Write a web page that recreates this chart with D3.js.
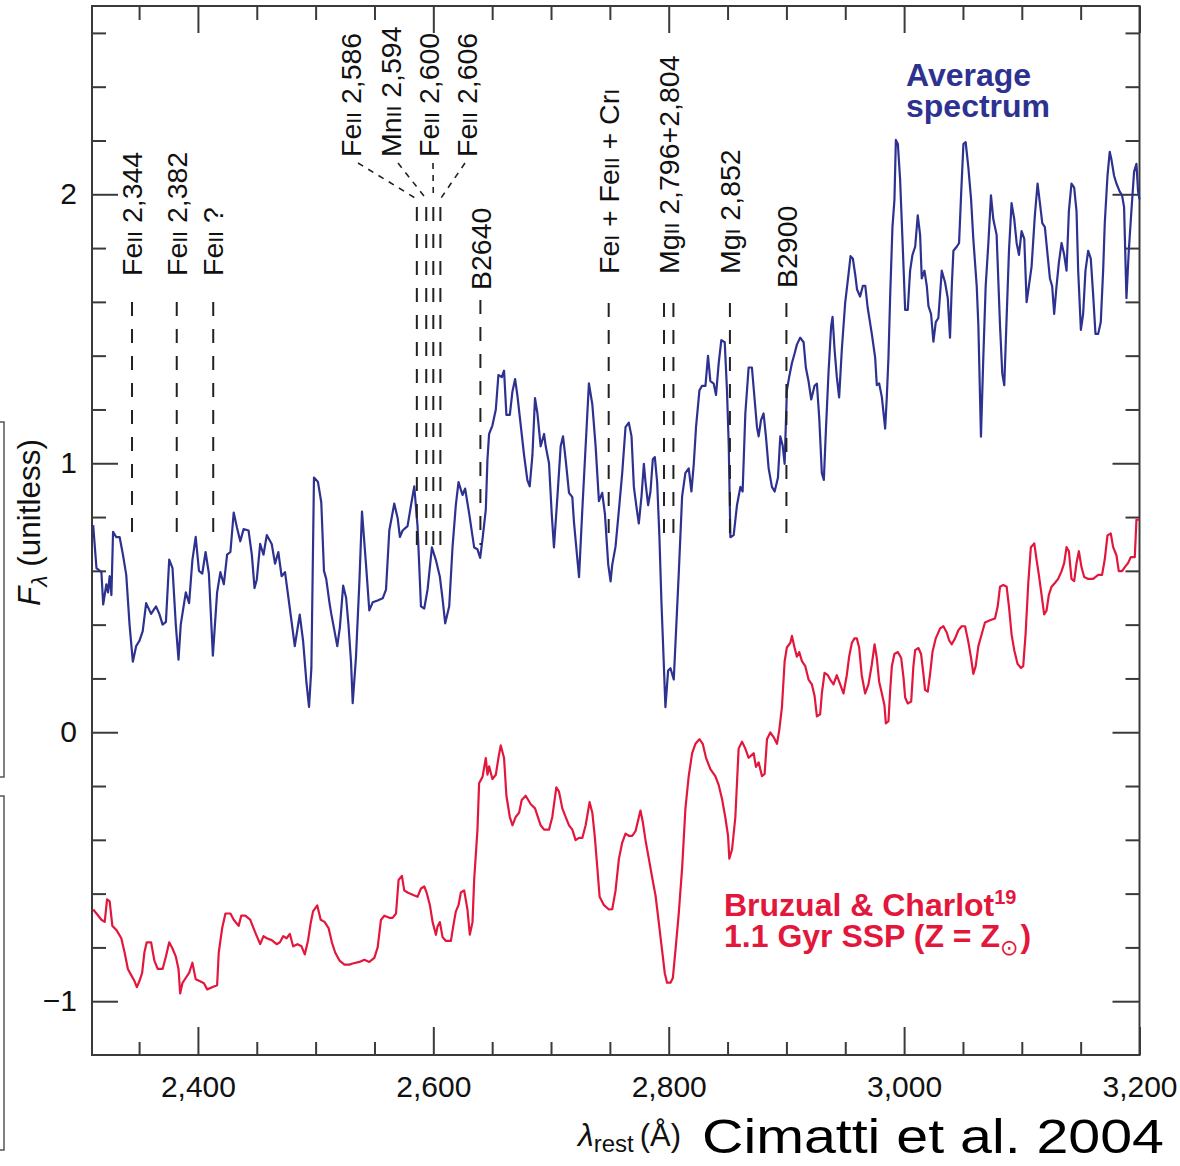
<!DOCTYPE html>
<html>
<head>
<meta charset="utf-8">
<script src="https://cdn.jsdelivr.net/npm/d3@7"></script>
<style>
  body { margin: 0; background: #fff; }
  svg { display: block; }
  text { font-family: "Liberation Sans", Arial, Helvetica, sans-serif; }
</style>
</head>
<body>
<svg id="chart" width="1180" height="1166"></svg>
<script>
// ---- Average observed spectrum (rest-frame wavelength in Å, F_lambda unitless)
const avgWavelength = [
  2311.0,2313.8,2318.0,2319.5,2322.2,2323.6,2325.0,2326.5,2327.9,2330.7,2333.5,2336.3,2339.1,2341.9,2344.7,2347.5,
  2350.3,2353.1,2356.0,2360.2,2364.4,2367.2,2370.0,2372.8,2375.6,2378.4,2381.2,2383.5,2385.4,2389.7,2392.5,2395.3,
  2398.1,2400.9,2403.7,2406.5,2409.3,2412.7,2416.3,2419.1,2422.0,2424.8,2427.6,2430.4,2433.2,2436.0,2438.8,2443.0,
  2445.8,2448.1,2450.0,2452.9,2455.7,2458.5,2462.7,2465.5,2468.3,2471.1,2474.0,2478.1,2482.3,2486.5,2489.4,2492.2,
  2494.4,2496.4,2498.6,2502.0,2504.8,2507.1,2509.0,2511.8,2513.3,2516.1,2518.4,2520.6,2523.4,2525.9,2527.9,2530.1,
  2531.5,2534.3,2537.2,2539.4,2542.8,2545.6,2548.5,2552.7,2557.0,2559.8,2562.6,2566.8,2569.7,2571.6,2573.9,2578.1,
  2581.0,2583.8,2586.6,2589.5,2592.3,2595.1,2598.8,2602.2,2605.6,2607.8,2610.1,2613.5,2616.3,2619.1,2621.4,2624.8,
  2627.0,2630.5,2634.7,2637.5,2639.8,2641.8,2644.6,2646.0,2647.4,2650.2,2653.1,2655.3,2658.2,2660.1,2662.1,2665.0,
  2667.2,2669.5,2671.5,2674.3,2677.1,2679.9,2681.9,2684.2,2686.4,2688.4,2691.2,2694.1,2695.5,2698.3,2700.6,2702.5,
  2705.4,2708.2,2710.2,2712.4,2715.3,2718.1,2719.5,2721.8,2723.8,2726.6,2729.4,2732.2,2735.1,2737.9,2740.7,2743.5,
  2745.8,2748.6,2750.6,2752.0,2754.8,2757.7,2760.5,2763.3,2766.1,2768.4,2770.4,2772.4,2774.6,2776.9,2778.9,2780.3,
  2782.5,2784.5,2786.5,2788.2,2790.2,2792.1,2793.8,2795.3,2797.2,2799.5,2801.5,2804.3,2806.3,2808.5,2811.4,2814.2,
  2817.0,2819.3,2821.3,2823.2,2826.1,2828.3,2831.2,2833.4,2835.4,2838.2,2840.2,2842.5,2844.7,2847.6,2849.5,2851.0,
  2852.4,2855.2,2858.0,2860.9,2862.8,2865.1,2867.9,2870.7,2873.0,2875.0,2876.4,2878.4,2880.6,2882.6,2884.9,2887.7,
  2890.0,2892.8,2894.8,2896.8,2898.5,2900.4,2902.4,2904.7,2906.9,2908.9,2911.7,2914.6,2916.5,2918.8,2921.1,2923.9,
  2925.9,2927.9,2930.1,2931.8,2933.5,2935.8,2938.0,2939.2,2940.9,2942.8,2944.8,2947.1,2949.9,2952.7,2954.5,2956.5,
  2958.5,2960.0,2962.6,2965.0,2967.0,2969.0,2972.6,2975.4,2976.8,2978.8,2981.1,2983.9,2985.3,2986.7,2988.2,2990.1,
  2991.8,2993.0,2994.7,2996.6,2998.6,3000.9,3003.1,3005.1,3007.1,3009.4,3011.6,3013.6,3015.0,3017.3,3019.3,3020.7,
  3022.9,3024.9,3026.9,3029.1,3032.0,3034.8,3037.1,3039.0,3040.5,3041.9,3044.7,3046.7,3048.4,3050.4,3052.3,3054.6,
  3056.9,3058.8,3061.7,3063.1,3064.5,3065.3,3067.3,3069.3,3071.6,3073.8,3075.8,3078.6,3081.5,3083.4,3085.1,3087.1,
  3089.1,3091.3,3093.6,3095.6,3097.6,3099.8,3102.1,3104.1,3106.0,3108.3,3111.1,3113.4,3115.4,3117.4,3119.6,3121.9,
  3123.9,3125.8,3127.5,3129.5,3131.5,3133.8,3136.0,3138.0,3140.0,3142.2,3144.5,3146.5,3147.9,3150.2,3152.1,3154.1,
  3156.4,3158.6,3160.6,3162.6,3164.9,3167.1,3169.1,3170.5,3172.8,3174.7,3176.2,3178.4,3180.4,3183.2,3185.2,3186.9,
  3188.9,3190.9,3193.1,3195.4,3197.4,3198.8,3200.0
];
const avgFlux = [
  0.770,0.610,0.595,0.475,0.550,0.520,0.580,0.510,0.745,0.725,0.725,0.660,0.585,0.400,0.262,0.320,
  0.340,0.376,0.480,0.440,0.468,0.440,0.400,0.410,0.642,0.610,0.400,0.270,0.400,0.520,0.480,0.640,
  0.726,0.600,0.590,0.670,0.590,0.285,0.520,0.595,0.550,0.660,0.670,0.817,0.760,0.710,0.755,0.750,
  0.660,0.536,0.567,0.700,0.660,0.733,0.700,0.627,0.670,0.580,0.595,0.460,0.320,0.437,0.338,0.185,
  0.094,0.240,0.947,0.930,0.855,0.600,0.570,0.480,0.440,0.375,0.320,0.390,0.545,0.500,0.400,0.260,
  0.108,0.280,0.561,0.820,0.624,0.453,0.483,0.490,0.498,0.530,0.750,0.850,0.796,0.726,0.750,0.766,
  0.843,0.914,0.766,0.468,0.460,0.530,0.687,0.640,0.577,0.498,0.405,0.468,0.687,0.843,0.930,0.882,
  0.906,0.812,0.687,0.680,0.648,0.718,0.828,1.015,1.109,1.140,1.200,1.328,1.320,1.344,1.180,1.180,
  1.266,1.313,1.250,1.140,1.030,0.937,0.914,1.030,1.242,1.187,1.063,1.109,1.063,1.000,0.812,0.687,
  0.874,1.063,1.100,1.015,0.890,0.874,0.781,0.671,0.577,0.828,1.063,1.297,1.219,1.063,0.859,0.890,
  0.812,0.624,0.561,0.622,0.690,0.827,0.964,1.134,1.151,1.100,0.912,0.844,0.776,0.878,0.998,0.929,
  0.844,0.895,1.015,1.023,0.929,0.725,0.486,0.315,0.093,0.229,0.238,0.196,0.383,0.588,0.878,0.964,
  0.981,0.895,0.998,1.134,1.271,1.288,1.288,1.399,1.305,1.296,1.254,1.373,1.458,1.450,1.271,1.066,
  0.725,0.733,0.844,0.912,0.895,1.185,1.356,1.356,1.237,1.134,1.100,1.160,1.185,1.100,0.981,0.912,
  0.895,0.946,1.100,1.066,0.998,1.271,1.322,1.373,1.407,1.441,1.467,1.450,1.356,1.305,1.237,1.288,
  1.296,1.168,0.964,0.938,1.117,1.339,1.510,1.544,1.424,1.322,1.245,1.424,1.595,1.700,1.770,1.760,
  1.700,1.646,1.620,1.660,1.660,1.580,1.480,1.393,1.290,1.297,1.246,1.129,1.246,1.393,1.628,1.878,
  1.981,2.202,2.187,2.055,1.834,1.570,1.570,1.716,1.775,1.805,1.922,1.849,1.687,1.716,1.658,1.584,
  1.555,1.452,1.525,1.540,1.716,1.672,1.614,1.467,1.658,1.790,1.805,1.819,1.996,2.187,2.194,2.099,
  1.981,1.834,1.658,1.511,1.246,1.099,1.393,1.658,1.819,1.996,1.907,1.849,1.511,1.334,1.290,1.540,
  1.790,1.967,1.907,1.819,1.775,1.863,1.834,1.599,1.658,1.731,1.922,2.040,1.967,1.893,1.878,1.775,
  1.687,1.658,1.555,1.658,1.746,1.819,1.775,1.716,1.937,2.040,2.025,1.937,1.716,1.496,1.555,1.716,
  1.790,1.761,1.628,1.481,1.481,1.525,1.716,1.893,2.069,2.158,2.128,2.069,2.040,2.010,1.996,1.952,
  1.614,1.790,1.937,2.084,2.113,2.010,1.981
];

// ---- Bruzual & Charlot 1.1 Gyr SSP model (offset for display)
const modelWavelength = [
  2311.0,2313.8,2318.0,2320.8,2322.8,2325.0,2327.3,2330.7,2334.9,2337.7,2340.5,2343.3,2346.1,2348.1,2350.3,2352.6,
  2354.5,2356.5,2360.2,2363.0,2365.8,2370.0,2372.8,2375.6,2378.4,2381.2,2383.5,2384.9,2386.8,2390.2,2392.5,2395.3,
  2398.1,2401.4,2405.1,2407.9,2412.1,2416.3,2417.7,2420.6,2423.4,2427.6,2430.4,2434.6,2436.8,2440.2,2444.4,2447.2,
  2450.0,2452.9,2455.7,2458.5,2462.7,2466.9,2469.7,2472.5,2475.3,2478.1,2480.9,2484.6,2488.0,2490.8,2493.6,2495.8,
  2497.8,2501.4,2504.3,2507.6,2511.0,2513.8,2516.6,2520.3,2524.5,2528.7,2531.5,2537.2,2541.4,2545.6,2549.9,2552.7,
  2555.5,2558.4,2562.6,2565.4,2568.3,2570.5,2573.3,2575.3,2578.1,2582.4,2586.6,2589.5,2592.3,2594.3,2597.1,2599.4,
  2602.2,2603.6,2605.6,2607.8,2610.7,2614.9,2616.9,2619.1,2621.4,2623.4,2626.2,2629.0,2631.0,2633.3,2634.7,2637.5,
  2638.9,2641.8,2644.6,2646.0,2647.4,2650.2,2653.1,2655.3,2657.3,2660.1,2662.1,2665.0,2667.2,2670.0,2672.9,2675.1,
  2678.5,2682.8,2686.4,2691.2,2694.1,2698.3,2701.1,2704.5,2706.8,2709.6,2712.4,2715.3,2718.1,2720.9,2723.8,2726.6,
  2729.4,2732.8,2735.1,2737.3,2739.3,2741.3,2745.0,2749.2,2752.0,2754.8,2757.7,2760.5,2763.3,2766.1,2769.0,2771.8,
  2774.1,2776.0,2778.0,2780.3,2783.1,2785.9,2788.8,2791.6,2794.4,2796.7,2798.6,2801.5,2803.5,2805.7,2808.5,2811.4,
  2814.2,2817.0,2819.9,2822.7,2826.1,2828.9,2831.7,2835.4,2839.6,2842.5,2845.3,2848.1,2850.4,2851.5,2853.8,2856.6,
  2859.4,2862.3,2865.1,2867.9,2870.2,2872.2,2874.1,2876.4,2879.2,2881.5,2883.5,2886.3,2889.1,2892.0,2893.9,2896.2,
  2898.5,2900.4,2903.3,2904.7,2906.9,2908.9,2910.9,2913.2,2916.0,2918.8,2921.6,2923.9,2925.9,2928.7,2930.1,2932.4,
  2935.2,2937.2,2940.0,2942.8,2945.7,2948.5,2951.3,2953.3,2955.6,2957.8,2959.8,2961.8,2964.0,2966.9,2969.7,2972.5,
  2974.9,2976.8,2978.8,2981.1,2983.3,2984.5,2986.7,2988.2,2989.6,2991.8,2994.7,2997.5,2999.5,3000.9,3003.1,3006.0,
  3007.9,3009.4,3012.2,3014.4,3016.4,3017.8,3020.1,3022.1,3024.1,3026.9,3030.6,3033.4,3036.2,3038.2,3040.5,3043.3,
  3046.1,3048.9,3051.8,3054.6,3056.9,3058.8,3060.8,3063.1,3065.9,3068.7,3073.0,3077.2,3079.5,3081.5,3084.3,3087.1,
  3089.1,3091.3,3093.6,3096.4,3099.3,3101.2,3103.2,3105.5,3107.7,3110.6,3112.5,3114.5,3116.8,3119.0,3121.0,3123.0,
  3125.3,3128.1,3130.9,3133.8,3136.0,3138.0,3140.0,3142.2,3144.5,3146.5,3148.5,3150.7,3153.0,3156.4,3160.6,3164.9,
  3168.2,3170.5,3172.8,3175.6,3177.6,3180.4,3182.4,3185.2,3187.5,3190.3,3192.6,3196.0,3197.4,3200.0
];
const modelFlux = [
  -0.659,-0.674,-0.697,-0.705,-0.621,-0.629,-0.720,-0.735,-0.766,-0.819,-0.880,-0.903,-0.925,-0.948,-0.925,-0.895,
  -0.819,-0.781,-0.781,-0.849,-0.880,-0.880,-0.834,-0.781,-0.804,-0.834,-0.880,-0.971,-0.933,-0.910,-0.895,-0.857,
  -0.918,-0.925,-0.933,-0.956,-0.948,-0.941,-0.819,-0.728,-0.674,-0.674,-0.697,-0.720,-0.682,-0.682,-0.697,-0.728,
  -0.758,-0.788,-0.758,-0.766,-0.773,-0.788,-0.781,-0.758,-0.766,-0.750,-0.796,-0.788,-0.796,-0.826,-0.773,-0.710,
  -0.666,-0.644,-0.697,-0.705,-0.728,-0.781,-0.819,-0.849,-0.864,-0.864,-0.860,-0.854,-0.846,-0.854,-0.839,-0.800,
  -0.698,-0.682,-0.690,-0.690,-0.674,-0.549,-0.534,-0.588,-0.596,-0.604,-0.612,-0.581,-0.573,-0.596,-0.643,-0.706,
  -0.753,-0.722,-0.706,-0.761,-0.776,-0.776,-0.722,-0.667,-0.643,-0.596,-0.588,-0.659,-0.753,-0.706,-0.549,-0.362,
  -0.190,-0.166,-0.096,-0.158,-0.127,-0.174,-0.158,-0.096,-0.049,-0.096,-0.236,-0.315,-0.346,-0.315,-0.299,-0.252,
  -0.236,-0.268,-0.283,-0.346,-0.362,-0.362,-0.315,-0.205,-0.221,-0.283,-0.315,-0.346,-0.362,-0.401,-0.393,-0.393,
  -0.346,-0.260,-0.299,-0.393,-0.502,-0.612,-0.643,-0.659,-0.658,-0.590,-0.470,-0.410,-0.377,-0.385,-0.385,-0.368,
  -0.325,-0.291,-0.334,-0.402,-0.470,-0.539,-0.607,-0.709,-0.812,-0.897,-0.931,-0.931,-0.914,-0.812,-0.675,-0.504,
  -0.283,-0.163,-0.078,-0.043,-0.026,-0.043,-0.095,-0.137,-0.163,-0.197,-0.248,-0.317,-0.385,-0.470,-0.436,-0.317,
  -0.061,-0.035,-0.061,-0.095,-0.086,-0.078,-0.129,-0.112,-0.163,-0.155,-0.026,-0.001,-0.018,-0.043,0.007,0.093,
  0.264,0.315,0.332,0.358,0.315,0.281,0.298,0.264,0.246,0.196,0.178,0.136,0.059,0.067,0.144,0.221,
  0.212,0.196,0.178,0.212,0.178,0.144,0.212,0.281,0.332,0.349,0.349,0.315,0.212,0.144,0.178,0.250,
  0.327,0.276,0.188,0.144,0.100,0.033,0.041,0.158,0.246,0.291,0.298,0.276,0.203,0.129,0.107,0.114,
  0.246,0.305,0.313,0.291,0.217,0.158,0.151,0.217,0.298,0.349,0.386,0.394,0.371,0.342,0.327,0.349,
  0.379,0.394,0.394,0.335,0.276,0.217,0.246,0.320,0.364,0.408,0.416,0.423,0.467,0.541,0.548,0.541,
  0.467,0.364,0.305,0.254,0.239,0.246,0.364,0.555,0.688,0.702,0.643,0.585,0.511,0.438,0.452,0.511,
  0.541,0.555,0.570,0.599,0.629,0.688,0.673,0.570,0.562,0.629,0.673,0.614,0.577,0.570,0.570,0.585,
  0.585,0.643,0.732,0.739,0.688,0.658,0.599,0.599,0.614,0.629,0.651,0.651,0.790,0.790
];

// ---- Axis ticks
const xMajorTicks = [2400, 2600, 2800, 3000, 3200];
const xMinorTicks = [2350, 2450, 2500, 2550, 2650, 2700, 2750, 2850, 2900, 2950, 3050, 3100, 3150];
const yMajorTicks = [-1, 0, 1, 2];
const yMinorTicks = [-0.8, -0.6, -0.4, -0.2, 0.2, 0.4, 0.6, 0.8, 1.2, 1.4, 1.6, 1.8, 2.2, 2.4, 2.6];

// ---- Spectral features: marker wavelengths and their labels ({..} = small capitals)
const featureWavelengths = [[2344], [2382], [2413], [2586], [2594], [2600], [2606], [2640], [2749], [2796, 2804], [2852], [2900]];
const featureLabels = ["Fe{II} 2,344", "Fe{II} 2,382", "Fe{II} ?", "Fe{II} 2,586", "Mn{II} 2,594", "Fe{II} 2,600", "Fe{II} 2,606",
                       "B2640", "Fe{I} + Fe{II} + Cr{I}", "Mg{II} 2,796+2,804", "Mg{I} 2,852", "B2900"];

// ---------------------------------------------------------------------------
const svg = d3.select("#chart");
const plot = { left: 92, right: 1139.5, top: 6, bottom: 1055 };

const x = d3.scaleLinear().domain([2310, 3200]).range([plot.left, plot.right]);
const y = d3.scaleLinear().domain([-1.2, 2.7]).range([plot.bottom, plot.top]);

const frameColor = "#3a3a3a";
const blue = "#2d3290";
const red = "#e3173c";

// Fragments of the neighbouring panel at the left edge
svg.append("rect").attr("x", -10).attr("y", 422).attr("width", 14).attr("height", 355)
  .attr("fill", "none").attr("stroke", "#555").attr("stroke-width", 1.5);
svg.append("rect").attr("x", -10).attr("y", 796).attr("width", 14).attr("height", 354)
  .attr("fill", "none").attr("stroke", "#555").attr("stroke-width", 1.5);

// ---- Axes (ticks point inwards on all four sides)
function styleAxis(g) {
  g.select(".domain").remove();
  g.selectAll(".tick line").attr("stroke", frameColor).attr("stroke-width", 2);
  g.selectAll(".tick text").attr("fill", "#111").attr("font-size", 30)
    .attr("font-family", "'Liberation Sans', Arial, sans-serif");
}
const fmtX = d3.format(",");
svg.append("g").attr("transform", `translate(0,${plot.bottom})`)
  .call(d3.axisBottom(x).tickValues(xMajorTicks).tickSize(-28).tickPadding(21).tickFormat(fmtX)).call(styleAxis);
svg.append("g").attr("transform", `translate(0,${plot.bottom})`)
  .call(d3.axisBottom(x).tickValues(xMinorTicks).tickSize(-13).tickFormat("")).call(styleAxis);
svg.append("g").attr("transform", `translate(0,${plot.top})`)
  .call(d3.axisTop(x).tickValues(xMajorTicks).tickSize(-27).tickFormat("")).call(styleAxis);
svg.append("g").attr("transform", `translate(0,${plot.top})`)
  .call(d3.axisTop(x).tickValues(xMinorTicks).tickSize(-14).tickFormat("")).call(styleAxis);

svg.append("g").attr("transform", `translate(${plot.left},0)`)
  .call(d3.axisLeft(y).tickValues(yMajorTicks).tickSize(-26).tickPadding(15).tickFormat(d3.format("d"))).call(styleAxis);
svg.append("g").attr("transform", `translate(${plot.left},0)`)
  .call(d3.axisLeft(y).tickValues(yMinorTicks).tickSize(-14).tickFormat("")).call(styleAxis);
svg.append("g").attr("transform", `translate(${plot.right},0)`)
  .call(d3.axisRight(y).tickValues(yMajorTicks).tickSize(-27).tickFormat("")).call(styleAxis);
svg.append("g").attr("transform", `translate(${plot.right},0)`)
  .call(d3.axisRight(y).tickValues(yMinorTicks).tickSize(-14).tickFormat("")).call(styleAxis);

// Frame
svg.append("rect")
  .attr("x", plot.left).attr("y", plot.top)
  .attr("width", plot.right - plot.left).attr("height", plot.bottom - plot.top)
  .attr("fill", "none").attr("stroke", frameColor).attr("stroke-width", 2);

// ---- Spectra
const line = d3.line().x(d => x(d[0])).y(d => y(d[1]));
const avgSeries = d3.zip(avgWavelength, avgFlux);
const modelSeries = d3.zip(modelWavelength, modelFlux);

svg.append("path").datum(modelSeries).attr("d", line)
  .attr("fill", "none").attr("stroke", red).attr("stroke-width", 2.2).attr("stroke-linejoin", "round");
svg.append("path").datum(avgSeries).attr("d", line)
  .attr("fill", "none").attr("stroke", blue).attr("stroke-width", 2.2).attr("stroke-linejoin", "round");

// ---- Feature markers
// layout: top of dashed marker, text start (bottom) and optional label centre for fanned labels
const markerLayout = [
  { top: 302, textY: 276 }, { top: 302, textY: 276 }, { top: 302, textY: 276 },
  { top: 207, textY: 157, labelX: 351, joinX: 358 },
  { top: 207, textY: 157, labelX: 391, joinX: 398 },
  { top: 207, textY: 157, labelX: 429, joinX: 433 },
  { top: 207, textY: 157, labelX: 467, joinX: 465 },
  { top: 300, textY: 290 }, { top: 303, textY: 274 }, { top: 303, textY: 274 },
  { top: 303, textY: 274 }, { top: 303, textY: 288 }
];
const markerBottom = 545;
const fgroup = svg.append("g");

function addLabel(g, str) {
  const parts = str.split(/(\{[^}]*\})/).filter(s => s.length);
  parts.forEach(p => {
    if (p.startsWith("{")) {
      g.append("tspan").attr("font-size", "0.74em").text(p.slice(1, -1));
    } else {
      g.append("tspan").text(p);
    }
  });
}

featureWavelengths.forEach((wls, i) => {
  const L = markerLayout[i];
  wls.forEach(wl => {
    fgroup.append("line")
      .attr("x1", x(wl)).attr("x2", x(wl))
      .attr("y1", L.top).attr("y2", markerBottom)
      .attr("stroke", "#222").attr("stroke-width", 2)
      .attr("stroke-dasharray", "14,13");
  });
  const cx = L.labelX !== undefined ? L.labelX : d3.mean(wls, x);
  const t = fgroup.append("text")
    .attr("transform", `translate(${cx},${L.textY}) rotate(-90)`)
    .attr("dy", "0.36em")
    .attr("font-size", 28.5).attr("fill", "#111");
  addLabel(t, featureLabels[i]);
  if (L.joinX !== undefined) {
    fgroup.append("line")
      .attr("x1", L.joinX).attr("y1", L.textY + 6)
      .attr("x2", x(wls[0])).attr("y2", L.top - 8)
      .attr("stroke", "#222").attr("stroke-width", 1.6)
      .attr("stroke-dasharray", "6,6");
  }
});

// ---- Series annotations
const avgNote = svg.append("text").attr("font-size", 32).attr("font-weight", "bold").attr("fill", blue);
avgNote.append("tspan").attr("x", 906).attr("y", 86).text("Average");
avgNote.append("tspan").attr("x", 906).attr("y", 117).text("spectrum");

const modelNote = svg.append("text").attr("font-size", 32).attr("font-weight", "bold").attr("fill", red);
modelNote.append("tspan").attr("x", 724).attr("y", 916).text("Bruzual & Charlot");
modelNote.append("tspan").attr("font-size", 20).attr("dy", -12).text("19");
modelNote.append("tspan").attr("x", 724).attr("y", 947).text("1.1 Gyr SSP (Z = Z");
modelNote.append("tspan").attr("font-size", 22).attr("dy", 8).attr("font-weight", "normal")
  .attr("font-family", "'DejaVu Sans', sans-serif").text("\u2299");
modelNote.append("tspan").attr("dy", -8).attr("dx", 2).text(")");

// ---- Axis titles
const yl = svg.append("text")
  .attr("transform", "translate(40,606) rotate(-90)")
  .attr("font-size", 31.5).attr("fill", "#111");
yl.append("tspan").attr("font-style", "italic").text("F");
yl.append("tspan").attr("font-style", "italic").attr("font-size", 23).attr("dy", 7).text("\u03bb");
yl.append("tspan").attr("dy", -7).text(" (unitless)");

const xl = svg.append("text").attr("x", 578).attr("y", 1146).attr("font-size", 32).attr("fill", "#111");
xl.append("tspan").attr("font-style", "italic").text("\u03bb");
xl.append("tspan").attr("font-size", 24).attr("dy", 6).text("rest");
xl.append("tspan").attr("font-size", 31).attr("dy", -6).attr("dx", 6).text("(\u00c5)");

svg.append("text").attr("x", 702).attr("y", 1153)
  .attr("font-family", "'Open Sans', 'DejaVu Sans', sans-serif").attr("font-weight", 300).attr("font-size", 48)
  .attr("textLength", 462).attr("lengthAdjust", "spacingAndGlyphs")
  .attr("fill", "#000").text("Cimatti et al. 2004");
</script>
</body>
</html>
